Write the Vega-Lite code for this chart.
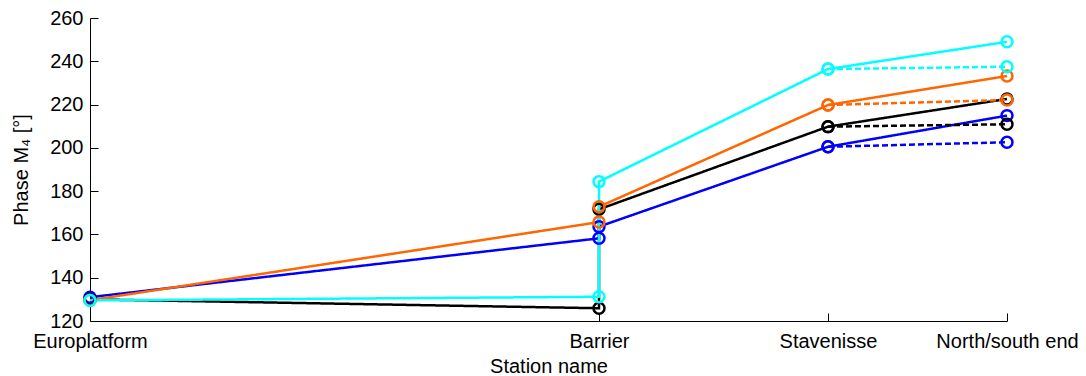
{
  "$schema": "https://vega.github.io/schema/vega-lite/v6.json",
  "autosize": {"type": "none"},
  "padding": {"left": 90, "top": 18, "right": 79, "bottom": 55},
  "width": 917,
  "height": 303,
  "background": "white",
  "config": {
    "view": {"stroke": null},
    "font": "Liberation Sans",
    "axis": {
      "grid": false,
      "domainColor": "black",
      "domainWidth": 1,
      "tickColor": "black",
      "tickWidth": 1,
      "tickSize": -8,
      "labelColor": "black",
      "titleColor": "black",
      "labelFont": "Liberation Sans",
      "titleFont": "Liberation Sans",
      "labelFontSize": 20,
      "titleFontSize": 20,
      "titleFontWeight": "normal"
    }
  },
  "data": {
    "values": [
      {"series": "Case 4", "run": "Run 1", "seq": 1, "km": 0, "phase": 131.0},
      {"series": "Case 4", "run": "Run 1", "seq": 2, "km": 509, "phase": 158.2},
      {"series": "Case 4", "run": "Run 1", "seq": 3, "km": 509, "phase": 163.6},
      {"series": "Case 4", "run": "Run 1", "seq": 4, "km": 738, "phase": 200.5},
      {"series": "Case 4", "run": "Run 1", "seq": 5, "km": 917, "phase": 214.9},
      {"series": "Case 4", "run": "Run 2", "seq": 4, "km": 738, "phase": 200.5},
      {"series": "Case 4", "run": "Run 2", "seq": 5, "km": 917, "phase": 202.6},
      {"series": "Case 3", "run": "Run 1", "seq": 1, "km": 0, "phase": 130.0},
      {"series": "Case 3", "run": "Run 1", "seq": 2, "km": 509, "phase": 125.9},
      {"series": "Case 3", "run": "Run 1", "seq": 3, "km": 509, "phase": 171.6},
      {"series": "Case 3", "run": "Run 1", "seq": 4, "km": 738, "phase": 209.8},
      {"series": "Case 3", "run": "Run 1", "seq": 5, "km": 917, "phase": 222.6},
      {"series": "Case 3", "run": "Run 2", "seq": 4, "km": 738, "phase": 209.8},
      {"series": "Case 3", "run": "Run 2", "seq": 5, "km": 917, "phase": 210.9},
      {"series": "Case 2", "run": "Run 1", "seq": 1, "km": 0, "phase": 129.6},
      {"series": "Case 2", "run": "Run 1", "seq": 2, "km": 509, "phase": 165.7},
      {"series": "Case 2", "run": "Run 1", "seq": 3, "km": 509, "phase": 172.8},
      {"series": "Case 2", "run": "Run 1", "seq": 4, "km": 738, "phase": 219.8},
      {"series": "Case 2", "run": "Run 1", "seq": 5, "km": 917, "phase": 233.2},
      {"series": "Case 2", "run": "Run 2", "seq": 4, "km": 738, "phase": 219.8},
      {"series": "Case 2", "run": "Run 2", "seq": 5, "km": 917, "phase": 222.1},
      {"series": "Case 1", "run": "Run 1", "seq": 1, "km": 0, "phase": 129.5},
      {"series": "Case 1", "run": "Run 1", "seq": 2, "km": 509, "phase": 131.2},
      {"series": "Case 1", "run": "Run 1", "seq": 3, "km": 509, "phase": 184.4},
      {"series": "Case 1", "run": "Run 1", "seq": 4, "km": 738, "phase": 236.4},
      {"series": "Case 1", "run": "Run 1", "seq": 5, "km": 917, "phase": 249.0},
      {"series": "Case 1", "run": "Run 2", "seq": 4, "km": 738, "phase": 236.4},
      {"series": "Case 1", "run": "Run 2", "seq": 5, "km": 917, "phase": 237.5}
    ]
  },
  "encoding": {
    "x": {
      "field": "km",
      "type": "quantitative",
      "scale": {"domain": [0, 917], "nice": false, "zero": false},
      "axis": {
        "values": [0, 509, 738, 917],
        "labelExpr": "datum.value == 0 ? 'Europlatform' : datum.value == 509 ? 'Barrier' : datum.value == 738 ? 'Stavenisse' : 'North/south end'",
        "labelPadding": 18,
        "labelFlush": false,
        "labelOverlap": false,
        "title": "Station name",
        "titlePadding": 5
      }
    },
    "y": {
      "field": "phase",
      "type": "quantitative",
      "scale": {"domain": [120, 260], "nice": false, "zero": false},
      "axis": {
        "values": [120, 140, 160, 180, 200, 220, 240, 260],
        "labelPadding": 15,
        "title": "Phase M₄ [°]",
        "titlePadding": 18
      }
    },
    "color": {
      "field": "series",
      "type": "nominal",
      "scale": {"domain": ["Case 1", "Case 2", "Case 3", "Case 4"], "range": ["#00FFFF", "#FF6600", "#000000", "#0000FF"]},
      "legend": null
    }
  },
  "layer": [
    {
      "mark": {"type": "line", "strokeWidth": 2.5},
      "encoding": {
        "detail": {"field": "run", "type": "nominal"},
        "order": {"field": "seq", "type": "quantitative"},
        "strokeDash": {
          "field": "run",
          "type": "nominal",
          "scale": {"domain": ["Run 1", "Run 2"], "range": [[1, 0], [6, 3]]},
          "legend": null
        }
      }
    },
    {
      "mark": {"type": "point", "shape": "circle", "filled": false, "size": 120, "strokeWidth": 2.5, "opacity": 1}
    }
  ]
}
